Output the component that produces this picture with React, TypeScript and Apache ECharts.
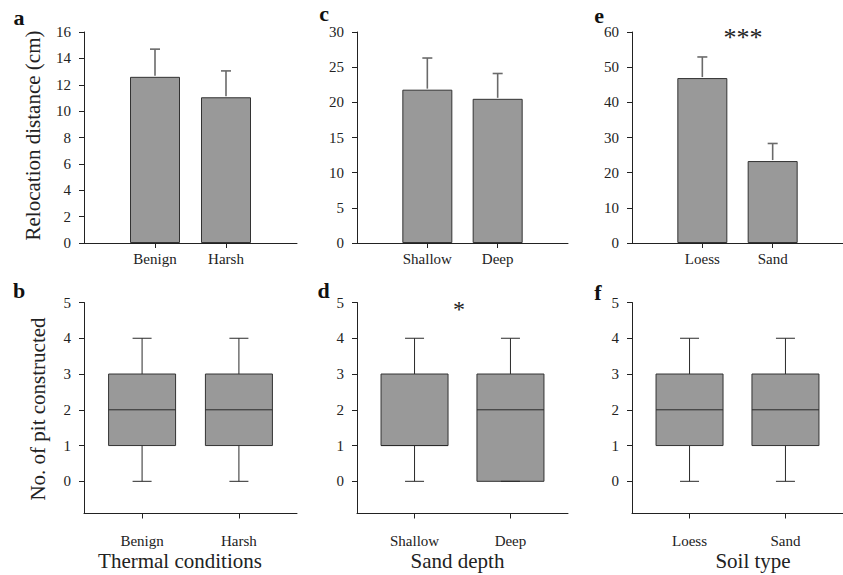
import React, { useEffect, useRef } from "react";
import * as echarts from "echarts";

// ---------- data ----------
const thermalCats = ["Benign", "Harsh"];
const depthCats = ["Shallow", "Deep"];
const soilCats = ["Loess", "Sand"];

// relocation distance: mean and top of error bar
const relocThermalMean = [12.6, 11.05];
const relocThermalTop = [14.7, 13.05];
const relocDepthMean = [21.8, 20.5];
const relocDepthTop = [26.3, 24.1];
const relocSoilMean = [46.9, 23.3];
const relocSoilTop = [52.9, 28.3];

// pits constructed: [min, Q1, median, Q3, max]
const pitThermal = [
  [0, 1, 2, 3, 4],
  [0, 1, 2, 3, 4],
];
const pitDepth = [
  [0, 1, 1, 3, 4],
  [0, 0, 2, 3, 4],
];
const pitSoil = [
  [0, 1, 2, 3, 4],
  [0, 1, 2, 3, 4],
];

const boxTicks = [0, 1, 2, 3, 4, 5];

const FONT = "Liberation Serif";
const INK = "#222";

export default function App() {
  const ref = useRef<HTMLDivElement>(null);

  useEffect(() => {
    if (!ref.current) return;
    const chart = echarts.init(ref.current, undefined, { renderer: "svg" });

    const lefts = [84, 357, 632];
    const widths = [213, 211, 211];
    const grids: any[] = [];
    for (let r = 0; r < 2; r++) {
      for (let c = 0; c < 3; c++) {
        grids.push({
          left: lefts[c],
          top: r === 0 ? 32 : 302.5,
          width: widths[c],
          height: 211,
          containLabel: false,
        });
      }
    }

    const catSets = [thermalCats, depthCats, soilCats];
    const barMeans = [relocThermalMean, relocDepthMean, relocSoilMean];
    const barTops = [relocThermalTop, relocDepthTop, relocSoilTop];
    const boxes = [pitThermal, pitDepth, pitSoil];
    const topMax = [16, 30, 60];
    const topInt = [2, 5, 10];

    const axisLine = { show: true, onZero: false, lineStyle: { color: INK, width: 1 } };
    const labelStyle = { color: INK, fontFamily: FONT, fontSize: 15 };

    const xAxes: any[] = [];
    const yAxes: any[] = [];
    const series: any[] = [];

    for (let c = 0; c < 3; c++) {
      const cats = catSets[c];
      // top row
      xAxes.push({
        type: "value",
        gridIndex: c,
        min: 0,
        max: 3,
        axisLine,
        splitLine: { show: false },
        axisTick: { show: true, customValues: [1, 2], length: 5, lineStyle: { color: INK } },
        axisLabel: {
          ...labelStyle,
          customValues: [1, 2],
          margin: 8,
          formatter: (v: number) => cats[Math.round(v) - 1] ?? "",
        },
      });
      yAxes.push({
        type: "value",
        gridIndex: c,
        min: 0,
        max: topMax[c],
        interval: topInt[c],
        axisLine,
        splitLine: { show: false },
        axisTick: { show: true, length: 5, lineStyle: { color: INK } },
        axisLabel: { ...labelStyle, margin: 13 },
      });
    }
    for (let c = 0; c < 3; c++) {
      const cats = catSets[c];
      xAxes.push({
        type: "value",
        gridIndex: 3 + c,
        min: 0.4,
        max: 2.6,
        axisLine,
        splitLine: { show: false },
        axisTick: { show: true, customValues: [1, 2], length: 5, lineStyle: { color: INK } },
        axisLabel: {
          ...labelStyle,
          customValues: [1, 2],
          margin: 20,
          formatter: (v: number) => cats[Math.round(v) - 1] ?? "",
        },
      });
      yAxes.push({
        type: "value",
        gridIndex: 3 + c,
        min: -0.9,
        max: 5,
        axisLine,
        splitLine: { show: false },
        axisTick: { show: true, customValues: boxTicks, length: 5, lineStyle: { color: INK } },
        axisLabel: { ...labelStyle, customValues: boxTicks, margin: 13 },
      });
    }

    // bars + error bars
    for (let c = 0; c < 3; c++) {
      const means = barMeans[c];
      const tops = barTops[c];
      series.push({
        type: "bar",
        xAxisIndex: c,
        yAxisIndex: c,
        barWidth: 50,
        data: means.map((m, i) => [i + 1, m]),
        itemStyle: { color: "#999999", borderColor: "#333", borderWidth: 1 },
        z: 2,
      });
      series.push({
        type: "custom",
        xAxisIndex: c,
        yAxisIndex: c,
        z: 3,
        data: means.map((m, i) => [i + 1, m, tops[i]]),
        encode: { x: 0, y: [1, 2] },
        renderItem: (params: any, api: any) => {
          const x = api.value(0);
          const p0 = api.coord([x, api.value(1)]);
          const p1 = api.coord([x, api.value(2)]);
          const st = { stroke: "#6a6a6a", lineWidth: 1.6 };
          return {
            type: "group",
            children: [
              { type: "line", shape: { x1: p0[0], y1: p0[1] - 1, x2: p1[0], y2: p1[1] }, style: st },
              { type: "line", shape: { x1: p1[0] - 5, y1: p1[1], x2: p1[0] + 5, y2: p1[1] }, style: st },
            ],
          };
        },
      });
    }

    // box plots
    for (let c = 0; c < 3; c++) {
      const data = boxes[c];
      series.push({
        type: "custom",
        xAxisIndex: 3 + c,
        yAxisIndex: 3 + c,
        z: 3,
        data: data.map((b, i) => [i + 1, ...b]),
        encode: { x: 0, y: [1, 2, 3, 4, 5] },
        renderItem: (params: any, api: any) => {
          const x = api.value(0);
          const pMin = api.coord([x, api.value(1)]);
          const pQ1 = api.coord([x, api.value(2)]);
          const pMed = api.coord([x, api.value(3)]);
          const pQ3 = api.coord([x, api.value(4)]);
          const pMax = api.coord([x, api.value(5)]);
          const cx = pMin[0];
          const hw = 33.5;
          const cw = 9.5;
          const ws = { stroke: "#2a2a2a", lineWidth: 1 };
          return {
            type: "group",
            children: [
              { type: "line", shape: { x1: cx, y1: pMax[1], x2: cx, y2: pQ3[1] }, style: ws },
              { type: "line", shape: { x1: cx, y1: pQ1[1], x2: cx, y2: pMin[1] }, style: ws },
              {
                type: "rect",
                shape: { x: cx - hw, y: pQ3[1], width: hw * 2, height: pQ1[1] - pQ3[1] },
                style: { fill: "#999999", stroke: "#333", lineWidth: 1 },
              },
              { type: "line", shape: { x1: cx - hw, y1: pMed[1], x2: cx + hw, y2: pMed[1] }, style: ws },
              { type: "line", shape: { x1: cx - cw, y1: pMax[1], x2: cx + cw, y2: pMax[1] }, style: ws },
              { type: "line", shape: { x1: cx - cw, y1: pMin[1], x2: cx + cw, y2: pMin[1] }, style: ws },
            ],
          };
        },
      });
    }

    const letter = (t: string, x: number, y: number) => ({
      type: "text",
      x,
      y,
      style: {
        text: t,
        fill: "#111",
        font: `bold 22px "${FONT}"`,
        align: "center",
        verticalAlign: "middle",
      },
    });
    const title = (t: string, x: number, y: number, rot = 0) => ({
      type: "text",
      x,
      y,
      rotation: rot,
      style: {
        text: t,
        fill: INK,
        font: `21px "${FONT}"`,
        align: "center",
        verticalAlign: "middle",
      },
    });

    const graphic: any[] = [
      letter("a", 19, 17.5),
      letter("c", 324, 13),
      letter("e", 599, 15.5),
      letter("b", 19, 290.5),
      letter("d", 323.5, 290.5),
      letter("f", 598, 292),
      title("Relocation distance (cm)", 33, 135.5, Math.PI / 2),
      title("No. of pit constructed", 38, 409, Math.PI / 2),
      title("Thermal conditions", 180, 561),
      title("Sand depth", 457.5, 561),
      title("Soil type", 753, 561),
      {
        type: "text",
        x: 743,
        y: 37,
        style: { text: "***", fill: INK, font: `26px "${FONT}"`, align: "center", verticalAlign: "middle" },
      },
      {
        type: "text",
        x: 459,
        y: 309,
        style: { text: "*", fill: INK, font: `24px "${FONT}"`, align: "center", verticalAlign: "middle" },
      },
    ];

    chart.setOption({
      animation: false,
      backgroundColor: "#ffffff",
      grid: grids,
      xAxis: xAxes,
      yAxis: yAxes,
      series,
      graphic,
    });

    return () => chart.dispose();
  }, []);

  return (
    <div
      ref={ref}
      style={{ position: "fixed", left: 0, top: 0, width: 843, height: 575, background: "#fff" }}
    />
  );
}
